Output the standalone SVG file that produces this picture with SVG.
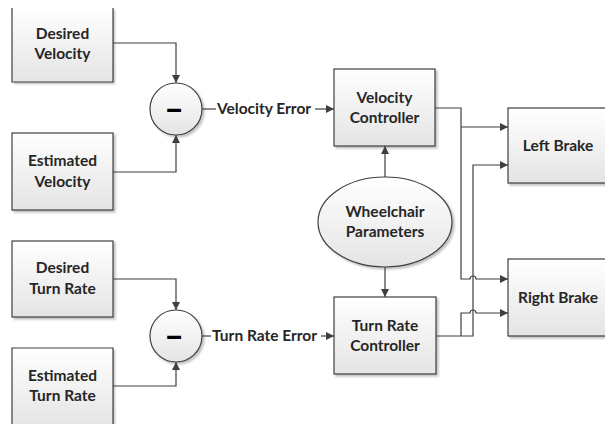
<svg xmlns="http://www.w3.org/2000/svg" width="605" height="424" viewBox="0 0 605 424">
<style>
.box{fill:url(#g);stroke:none;filter:url(#sh)}
.edge{fill:none;stroke:#3f3f3f;stroke-width:1.2}
.bx{fill:url(#g);stroke:#3f3f3f;stroke-width:1.2;filter:url(#sh)}
.t{font-family:Lato,"Liberation Sans",sans-serif;font-weight:bold;font-size:15.5px;fill:#262626;text-anchor:middle}
.lbl{font-family:Lato,"Liberation Sans",sans-serif;font-weight:bold;font-size:15.5px;fill:#262626}
.m{font-family:Lato,"Liberation Sans",sans-serif;font-weight:900;font-size:34px;fill:#000;text-anchor:middle}
.c{fill:none;stroke:#3f3f3f;stroke-width:1.2}
</style>
<defs>
<linearGradient id="g" x1="0" y1="0" x2="0" y2="1">
<stop offset="0" stop-color="#ffffff"/><stop offset="1" stop-color="#e4e4e4"/>
</linearGradient>
<filter id="sh" x="-10%" y="-10%" width="130%" height="130%">
<feDropShadow dx="2" dy="2" stdDeviation="1.2" flood-color="#000" flood-opacity="0.25"/>
</filter>
<marker id="a" viewBox="0 0 10 10" refX="10" refY="5" markerWidth="8" markerHeight="8" markerUnits="userSpaceOnUse" orient="auto">
<path d="M0,0 L10,5 L0,10 z" fill="#3f3f3f"/>
</marker>
</defs>
<g id="desired-velocity">
<rect class="box" x="12" y="8" width="101" height="74"/>
<path class="edge" d="M12,8 V82 H113 V8"/>
<text class="t" x="62.5" y="39">Desired</text>
<text class="t" x="62.5" y="59">Velocity</text>
</g>
<g id="estimated-velocity">
<rect class="bx" x="12" y="133" width="101" height="77"/>
<text class="t" x="62.5" y="166">Estimated</text>
<text class="t" x="62.5" y="187">Velocity</text>
</g>
<g id="desired-turn-rate">
<rect class="bx" x="12" y="241" width="101" height="76"/>
<text class="t" x="62.5" y="273">Desired</text>
<text class="t" x="62.5" y="294">Turn Rate</text>
</g>
<g id="estimated-turn-rate">
<rect class="box" x="12" y="348" width="101" height="80"/>
<path class="edge" d="M12,424 V348 H113 V424"/>
<text class="t" x="62.5" y="381">Estimated</text>
<text class="t" x="62.5" y="401">Turn Rate</text>
</g>
<g id="sum-velocity">
<circle class="bx" cx="176" cy="109" r="26"/>
<text class="m" x="174" y="121">–</text>
</g>
<g id="sum-turn">
<circle class="bx" cx="176" cy="336" r="26"/>
<text class="m" x="174" y="348">–</text>
</g>
<g id="velocity-controller">
<rect class="bx" x="334" y="69" width="101" height="77"/>
<text class="t" x="384.5" y="103">Velocity</text>
<text class="t" x="384.5" y="123">Controller</text>
</g>
<g id="turn-rate-controller">
<rect class="bx" x="334" y="297" width="102" height="77"/>
<text class="t" x="385" y="331">Turn Rate</text>
<text class="t" x="385" y="351">Controller</text>
</g>
<g id="wheelchair-parameters">
<ellipse class="bx" cx="385" cy="222" rx="67" ry="45"/>
<text class="t" x="385" y="217">Wheelchair</text>
<text class="t" x="385" y="237">Parameters</text>
</g>
<g id="left-brake">
<rect class="bx" x="508" y="108" width="110" height="75"/>
<text class="t" x="558" y="151">Left Brake</text>
</g>
<g id="right-brake">
<rect class="bx" x="508" y="259" width="110" height="77"/>
<text class="t" x="558" y="303">Right Brake</text>
</g>
<g id="connectors">
<path class="c" d="M113,43 H176 V83" marker-end="url(#a)"/>
<path class="c" d="M113,172 H176 V135" marker-end="url(#a)"/>
<path class="c" d="M113,279 H176 V310" marker-end="url(#a)"/>
<path class="c" d="M113,386 H176 V362" marker-end="url(#a)"/>
<path class="c" d="M202,109 H216"/>
<path class="c" d="M315,109 H334" marker-end="url(#a)"/>
<text class="lbl" x="217" y="114">Velocity Error</text>
<path class="c" d="M202,336 H211"/>
<path class="c" d="M321,336 H334" marker-end="url(#a)"/>
<text class="lbl" x="212" y="341">Turn Rate Error</text>
<path class="c" d="M385,177 V146" marker-end="url(#a)"/>
<path class="c" d="M385,267 V297" marker-end="url(#a)"/>
<path class="c" d="M435,108 H461 V279 H470 a3,3 0 0 1 6,0 H508" marker-end="url(#a)"/>
<path class="c" d="M461,127 H508" marker-end="url(#a)"/>
<path class="c" d="M436,336 H473 V165 H508" marker-end="url(#a)"/>
<path class="c" d="M461,336 V313 H470 a3,3 0 0 1 6,0 H508" marker-end="url(#a)"/>
</g>
</svg>
